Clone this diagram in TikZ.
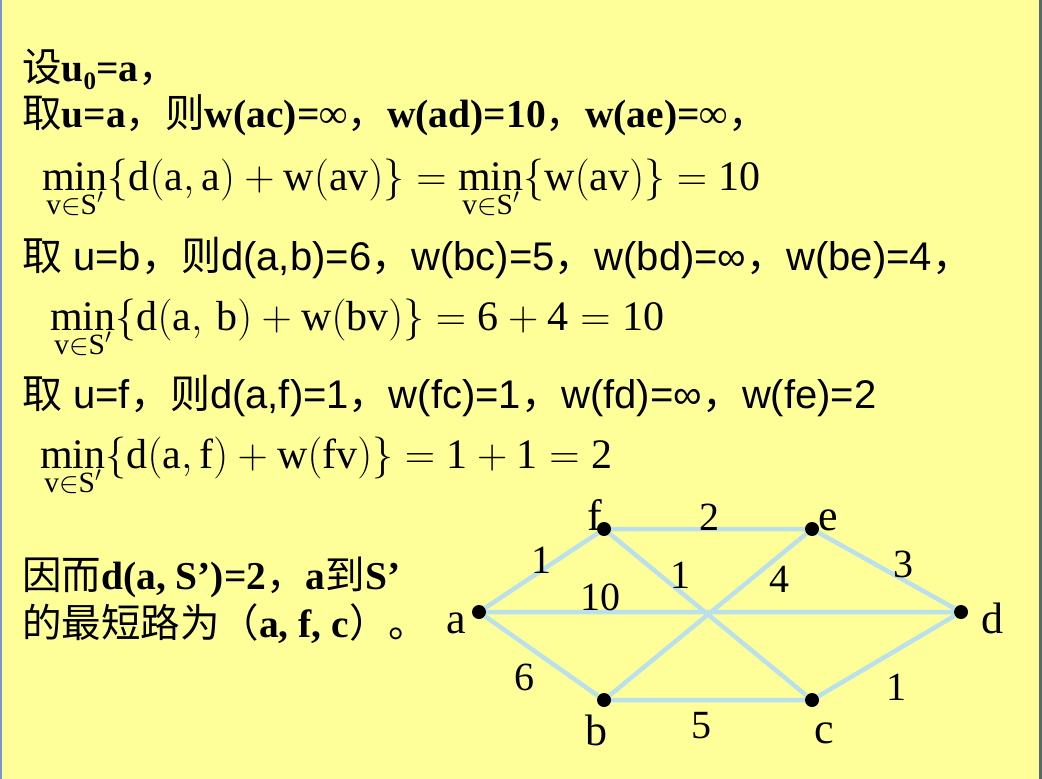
\RequirePackage{fix-cm}
\documentclass[tikz,border=0pt]{standalone}
\usepackage{fontspec}
\setmainfont{Liberation Serif}
\newfontfamily\cjk{Noto Sans CJK SC}
\newfontfamily\arial{Liberation Sans}
\newcommand{\zh}[1]{{\normalfont\cjk #1}}
\newcommand{\minvs}{\min_{\raisebox{-7pt}{$\scriptstyle\mathrm{v}\in\mathrm{S}'$}}}
\definecolor{slide}{RGB}{255,255,153}
\definecolor{edgeblue}{RGB}{186,224,236}
\definecolor{leftrule}{RGB}{120,150,205}
\definecolor{rightrule}{RGB}{85,105,115}
\begin{document}
\begin{tikzpicture}[x=1pt,y=-1pt,
  txt/.style={anchor=base west,inner sep=0pt,font=\fontsize{39.5}{46}\selectfont\bfseries},
  stxt/.style={anchor=base west,inner sep=0pt,font=\fontsize{40}{46}\selectfont\arial},
  eqn/.style={anchor=base west,inner sep=0pt,font=\fontsize{42}{48}\selectfont},
  dot/.style={circle,fill=black,inner sep=0pt,minimum size=14pt},
  edge/.style={draw=edgeblue,line width=4.5pt},
  vlabel/.style={anchor=base,inner sep=0pt,font=\fontsize{44}{50}\selectfont},
  wlabel/.style={anchor=base,inner sep=0pt,font=\fontsize{40}{44}\selectfont}]
\useasboundingbox (0,0) rectangle (1042,779);
\fill[slide] (0,0) rectangle (1042,779);
\draw[leftrule,line width=2pt] (1,0) -- (1,779);
\draw[rightrule,line width=3pt] (1040.5,0) -- (1040.5,779);
% text of the slide
\node[txt] (set) at (22,81) {\zh{设}u\raisebox{-8pt}{\fontsize{25}{25}\selectfont 0}=a\zh{，}};
\node[txt] (ua) at (22,127) {\zh{取}u=a\zh{，则}w(ac)=∞\zh{，}w(ad)=10\zh{，}w(ae)=∞\zh{，}};
\node[eqn] (mina) at (42,190) {$\displaystyle\minvs\Bigl\{\mathrm{d}\bigl(\mathrm{a},\mathrm{a}\bigr)+\mathrm{w}\bigl(\mathrm{av}\bigr)\Bigr\}=\minvs\Bigl\{\mathrm{w}\bigl(\mathrm{av}\bigr)\Bigr\}=\mathrm{10}$};
\node[stxt] (ub) at (22,270) {\zh{取} u=b\zh{，则}d(a,b)=6\zh{，}w(bc)=5\zh{，}w(bd)=∞\zh{，}w(be)=4\zh{，}};
\node[eqn] (minb) at (50,330) {$\displaystyle\minvs\Bigl\{\mathrm{d}\bigl(\mathrm{a},\,\mathrm{b}\bigr)+\mathrm{w}\bigl(\mathrm{bv}\bigr)\Bigr\}=\mathrm{6}+\mathrm{4}=\mathrm{10}$};
\node[stxt] (uf) at (22,408) {\zh{取} u=f\zh{，则}d(a,f)=1\zh{，}w(fc)=1\zh{，}w(fd)=∞\zh{，}w(fe)=2};
\node[eqn] (minf) at (40,468) {$\displaystyle\minvs\Bigl\{\mathrm{d}\bigl(\mathrm{a},\mathrm{f}\bigr)+\mathrm{w}\bigl(\mathrm{fv}\bigr)\Bigr\}=\mathrm{1}+\mathrm{1}=\mathrm{2}$};
\node[txt] (res) at (22,589) {\zh{因而}d(a, S’)=2\zh{，}a\zh{到}S’};
\node[txt] (path) at (22,637) {\zh{的最短路为（}a, f, c\zh{）。}};
% the graph
\node[dot] (a) at (479,612) {};
\node[dot] (f) at (604,529) {};
\node[dot] (e) at (812,529) {};
\node[dot] (d) at (961,612) {};
\node[dot] (b) at (604,700) {};
\node[dot] (c) at (812,700) {};
\draw[edge] (a) -- (f) (a) -- (d) (a) -- (b) (f) -- (e) (f) -- (c)
  (b) -- (e) (b) -- (c) (e) -- (d) (c) -- (d);
\node[vlabel] (fl) at (595,530) {f};
\node[vlabel] (el) at (828,530) {e};
\node[vlabel] (al) at (456,633) {a};
\node[vlabel] (dl) at (992,633) {d};
\node[vlabel] (bl) at (596,745) {b};
\node[vlabel] (cl) at (824,743) {c};
\node[wlabel] (waf) at (541,573) {1};
\node[wlabel] (wfe) at (709,530) {2};
\node[wlabel] (wfc) at (680,588) {1};
\node[wlabel] (wbe) at (779,592) {4};
\node[wlabel] (wed) at (903,577) {3};
\node[wlabel] (wad) at (600,610) {10};
\node[wlabel] (wab) at (524,690) {6};
\node[wlabel] (wbc) at (701,738) {5};
\node[wlabel] (wcd) at (896,700) {1};
\end{tikzpicture}
\end{document}
